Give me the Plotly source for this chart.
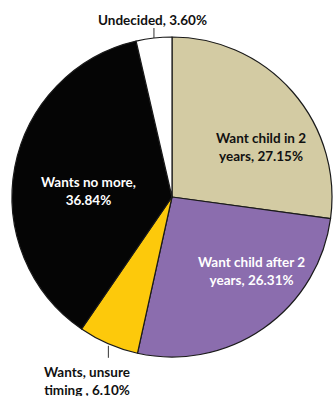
import math
import plotly.graph_objects as go

labels = ["Want child in 2 years", "Want child after 2 years", "Wants, unsure timing ",
          "Wants no more", "Undecided"]
values = [27.15, 26.31, 6.10, 36.84, 3.60]
colors = ["#D3CBA3", "#8B6DAE", "#FDC90B", "#050505", "#FFFFFF"]
label_texts = ["Want child in 2<br>years, 27.15%", "Want child after 2<br>years, 26.31%",
               "Wants, unsure<br>timing , 6.10%", "Wants no more,<br>36.84%", "Undecided, 3.60%"]
text_colors = ["#111111", "#FFFFFF", "#111111", "#FFFFFF", "#111111"]

W, H = 333, 396
cx, cy, R = 172, 197, 160

fig = go.Figure()
# invisible helper trace so pixel-unit axes exist for labels / leader lines
fig.add_trace(go.Scatter(x=[0, W], y=[0, H], mode="markers", marker=dict(opacity=0),
                         hoverinfo="skip", showlegend=False))
fig.add_trace(go.Pie(
    labels=labels, values=values, sort=False, direction="clockwise", rotation=0,
    marker=dict(colors=colors, line=dict(color="#1a1a1a", width=1.2)),
    textinfo="none", hoverinfo="label+percent", showlegend=False,
    domain=dict(x=[(cx - R) / W, (cx + R) / W], y=[1 - (cy + R) / H, 1 - (cy - R) / H]),
))

inside_pos = {0: (261, 147), 1: (251, 271), 3: (88, 191)}
FONT = dict(size=13.5, family="Lato", weight="bold")

total = sum(values)
cum = 0
annos = []
shapes = []
for i, v in enumerate(values):
    mid = (cum + v / 2) / total * 360
    cum += v
    a = math.radians(mid)
    if i in inside_pos:
        x, y = inside_pos[i]
        annos.append(dict(x=x, y=y, xref="x", yref="y", text=label_texts[i], showarrow=False,
                          font=dict(color=text_colors[i], **FONT),
                          xanchor="center", yanchor="middle", align="center"))
    else:
        x0 = cx + R * math.sin(a)
        y0 = cy - R * math.cos(a)
        if math.cos(a) > 0:
            y1 = y0 - 10
            shapes.append(dict(type="line", xref="x", yref="y", x0=x0, y0=y0, x1=x0, y1=y1,
                               line=dict(color="#333333", width=1)))
            annos.append(dict(x=x0 - 1, y=20, xref="x", yref="y", text=label_texts[i], showarrow=False,
                              font=dict(color=text_colors[i], **FONT),
                              xanchor="center", yanchor="middle", align="center"))
        else:
            y1 = y0 + 14
            shapes.append(dict(type="line", xref="x", yref="y", x0=x0, y0=y0 + 2, x1=x0, y1=y1,
                               line=dict(color="#333333", width=1)))
            annos.append(dict(x=87, y=381, xref="x", yref="y", text=label_texts[i], showarrow=False,
                              font=dict(color=text_colors[i], **FONT),
                              xanchor="center", yanchor="middle", align="center"))

fig.update_layout(
    width=W, height=H, margin=dict(l=0, r=0, t=0, b=0),
    paper_bgcolor="white", plot_bgcolor="rgba(0,0,0,0)",
    xaxis=dict(range=[0, W], visible=False, domain=[0, 1], fixedrange=True),
    yaxis=dict(range=[H, 0], visible=False, domain=[0, 1], fixedrange=True),
    annotations=annos, shapes=shapes,
)
fig.write_html("out.html", config={"displayModeBar": False})
